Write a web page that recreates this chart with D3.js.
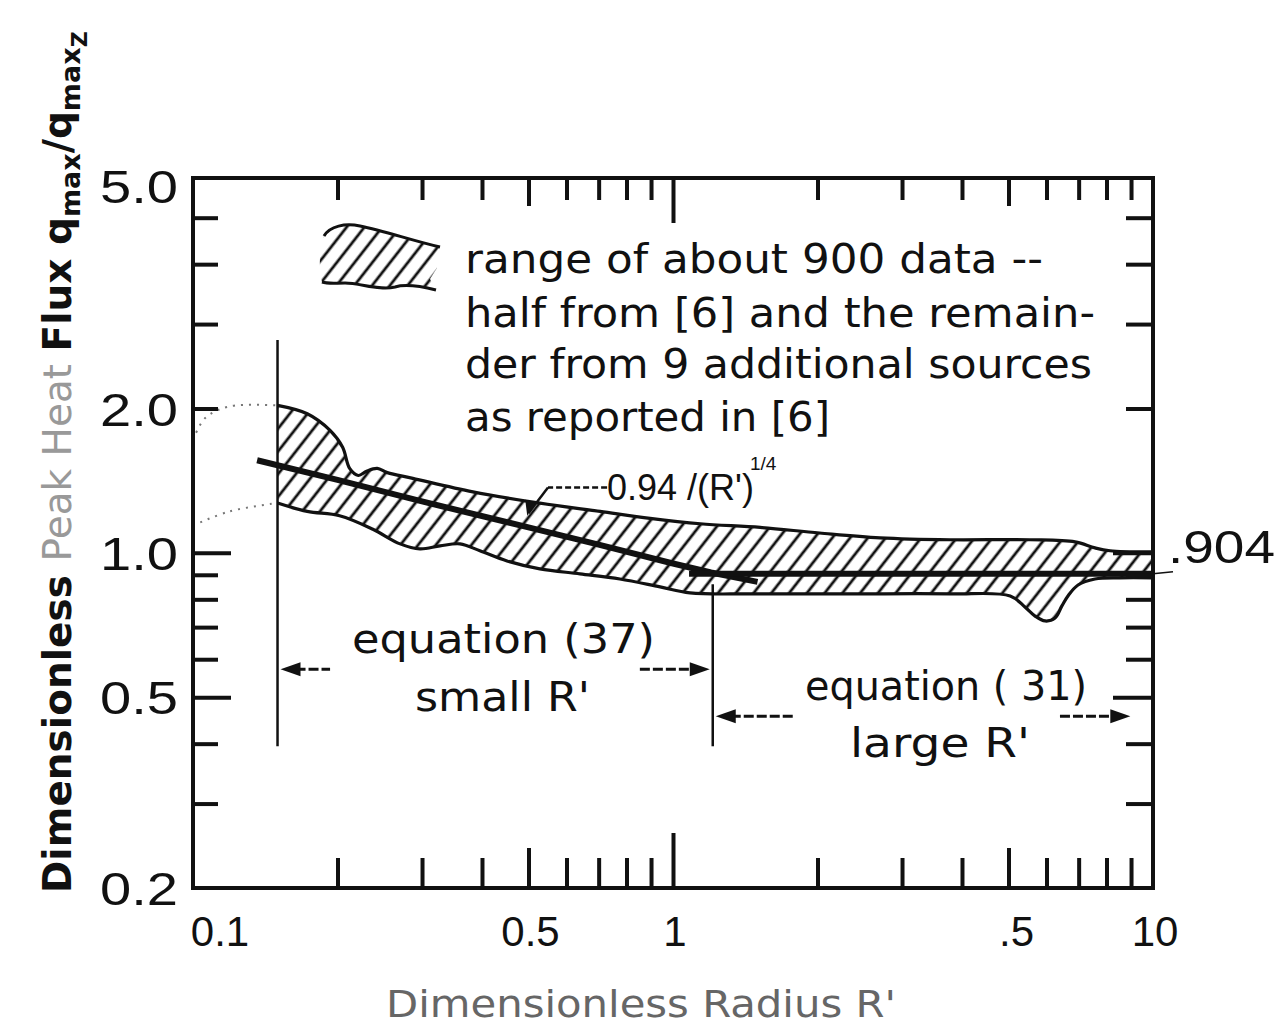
<!DOCTYPE html>
<html>
<head>
<meta charset="utf-8">
<script src="https://cdn.jsdelivr.net/npm/d3@7"></script>
<style>
  body { margin: 0; background: #fff; }
  svg { display: block; }
</style>
</head>
<body>
<svg id="chart" width="1280" height="1028"></svg>
<script>
// band of ~900 data points (upper / lower edges)
const bandUpperR = [0.15, 0.173, 0.193, 0.205, 0.212, 0.221, 0.230, 0.242, 0.254, 0.287, 0.383, 0.528, 0.705, 0.896, 1.14, 1.52, 2.02, 2.70, 3.78, 5.54, 6.88, 7.57, 8.14, 10];
const bandUpperQ = [2.03, 1.95, 1.80, 1.66, 1.50, 1.45, 1.48, 1.50, 1.47, 1.43, 1.34, 1.27, 1.22, 1.18, 1.15, 1.13, 1.10, 1.075, 1.065, 1.065, 1.054, 1.024, 1.01, 1.005];
const bandLowerR = [0.15, 0.173, 0.202, 0.237, 0.270, 0.297, 0.327, 0.360, 0.396, 0.451, 0.528, 0.640, 0.775, 0.940, 1.085, 1.45, 2.34, 3.78, 5.04, 5.41, 5.68, 5.96, 6.25, 6.46, 6.65, 6.98, 7.57, 8.54, 10];
const bandLowerQ = [1.27, 1.22, 1.195, 1.12, 1.044, 1.019, 1.034, 1.044, 1.010, 0.962, 0.926, 0.904, 0.882, 0.849, 0.825, 0.821, 0.821, 0.821, 0.813, 0.771, 0.738, 0.721, 0.731, 0.775, 0.813, 0.857, 0.882, 0.887, 0.887];

// dotted extension of the band below R' = 0.15
const extUpperR = [0.1, 0.106, 0.119, 0.15];
const extUpperQ = [1.72, 1.91, 2.02, 2.03];
const extLowerR = [0.1, 0.119, 0.15];
const extLowerQ = [1.14, 1.22, 1.27];

// 0.94/(R')^1/4 line and the .904 line
const fitR = [0.136, 0.2, 0.3, 0.5, 0.7, 1.0, 1.2, 1.5];
const fitQ = [1.56, 1.42, 1.28, 1.13, 1.04, 0.95, 0.91, 0.87];
const constR = [1.08, 10];
const constQ = [0.904, 0.904];

// limits of the two equations
const eqLimitsR = [0.15, 1.21, 9.1];

// ticks
const xMinorTicks = [0.2, 0.3, 0.4, 0.6, 0.7, 0.8, 0.9, 2, 3, 4, 6, 7, 8, 9];
const xMidTicks = [0.5, 5];
const xMajorTicks = [1];
const yMinorTicks = [0.3, 0.4, 0.6, 0.7, 0.8, 0.9, 2, 3, 4, 5];
const yMidTicks = [0.5, 1];
const xTickValues = [0.1, 0.5, 1, 5, 10];
const xTickLabels = ["0.1", "0.5", "1", ".5", "10"];
const yTickValues = [0.2, 0.5, 1, 2, 5];
const yTickLabels = ["0.2", "0.5", "1.0", "2.0", "5.0"];

const svg = d3.select('#chart');
const pLeft = 193, pRight = 1153, pTop = 178, pBottom = 888;

const x = d3.scaleLog().domain([0.1, 10]).range([pLeft, pRight]);
const y = d3.scaleLog().domain([0.2, 6.05]).range([pBottom, pTop]);

const ink = '#111';

// hatch pattern
const defs = svg.append('defs');
defs.append('pattern')
    .attr('id', 'hatch')
    .attr('patternUnits', 'userSpaceOnUse')
    .attr('width', 14).attr('height', 14)
    .attr('patternTransform', 'rotate(38)')
    .append('line')
    .attr('x1', 7).attr('y1', 0).attr('x2', 7).attr('y2', 14)
    .attr('stroke', ink).attr('stroke-width', 2.8);
defs.append('clipPath').attr('id', 'plot')
    .append('rect').attr('x', pLeft).attr('y', pTop).attr('width', pRight - pLeft).attr('height', pBottom - pTop);

const zip = (a, b) => a.map((v, i) => [v, b[i]]);
const line = d3.line().x(d => x(d[0])).y(d => y(d[1])).curve(d3.curveCatmullRom);
const straight = d3.line().x(d => x(d[0])).y(d => y(d[1]));

const upper = zip(bandUpperR, bandUpperQ);
const lower = zip(bandLowerR, bandLowerQ);

const g = svg.append('g').attr('clip-path', 'url(#plot)');

// band
g.append('path')
    .attr('d', line(upper) + line(lower.slice().reverse()).replace(/^M/, 'L') + 'Z')
    .attr('fill', 'url(#hatch)');
[upper, lower].forEach(pts => {
    g.append('path').attr('d', line(pts))
        .attr('fill', 'none').attr('stroke', ink).attr('stroke-width', 3.2);
});

// dotted extension
[zip(extUpperR, extUpperQ), zip(extLowerR, extLowerQ)].forEach(pts => {
    g.append('path').attr('d', line(pts))
        .attr('fill', 'none').attr('stroke', '#777').attr('stroke-width', 2)
        .attr('stroke-dasharray', '2,6');
});

// fit lines
g.append('path').attr('d', straight(zip(fitR, fitQ)))
    .attr('fill', 'none').attr('stroke', ink).attr('stroke-width', 6);
g.append('path').attr('d', straight(zip(constR, constQ)))
    .attr('fill', 'none').attr('stroke', ink).attr('stroke-width', 6);

// vertical limits of equations
svg.append('line')
    .attr('x1', x(eqLimitsR[0])).attr('x2', x(eqLimitsR[0]))
    .attr('y1', y(2.78)).attr('y2', y(0.395))
    .attr('stroke', ink).attr('stroke-width', 2.5);
svg.append('line')
    .attr('x1', x(eqLimitsR[1])).attr('x2', x(eqLimitsR[1]))
    .attr('y1', y(0.86)).attr('y2', y(0.395))
    .attr('stroke', ink).attr('stroke-width', 2.5);

// arrows
function arrowHead(tx, ty, dir) {
    // dir: +1 points right, -1 points left
    const L = 20, W = 7;
    svg.append('path')
        .attr('d', `M${tx},${ty}L${tx - dir * L},${ty - W}L${tx - dir * L},${ty + W}Z`)
        .attr('fill', ink);
}
function dimArrow(r0, r1, gap0, gap1, q) {
    const yy = y(q);
    const x0 = x(r0) + 3, x1 = x(r1) - 3;
    svg.append('line').attr('x1', x0 + 15).attr('x2', x(gap0)).attr('y1', yy).attr('y2', yy)
        .attr('stroke', ink).attr('stroke-width', 3).attr('stroke-dasharray', '10,3');
    svg.append('line').attr('x1', x(gap1)).attr('x2', x1 - 15).attr('y1', yy).attr('y2', yy)
        .attr('stroke', ink).attr('stroke-width', 3).attr('stroke-dasharray', '10,3');
    arrowHead(x0, yy, -1);
    arrowHead(x1, yy, 1);
}
dimArrow(eqLimitsR[0], eqLimitsR[1], 0.193, 0.853, 0.572);
dimArrow(eqLimitsR[1], eqLimitsR[2], 1.80, 6.4, 0.456);

// leader to the 0.94/(R')^1/4 line
svg.append('path')
    .attr('d', straight([[0.729, 1.368], [0.549, 1.368]]))
    .attr('fill', 'none').attr('stroke', ink).attr('stroke-width', 2.5).attr('stroke-dasharray', '6,3');
svg.append('path')
    .attr('d', straight([[0.549, 1.368], [0.50, 1.21]]))
    .attr('fill', 'none').attr('stroke', ink).attr('stroke-width', 2.5);
{
    const tx = x(0.497), ty = y(1.195);
    svg.append('path').attr('d', `M${tx},${ty}L${tx - 2},${ty - 16}L${tx + 8},${ty - 13}Z`).attr('fill', ink);
}
// .904 leader
svg.append('line').attr('x1', pRight).attr('x2', pRight + 20).attr('y1', y(0.904)).attr('y2', y(0.904) - 2)
    .attr('stroke', ink).attr('stroke-width', 1.5);

// ticks via d3 axes
function ticks(axisFn, scale, vals, len, tx) {
    const a = svg.append('g').attr('transform', tx)
        .call(axisFn(scale).tickValues(vals).tickSize(-len).tickFormat(''));
    a.select('.domain').remove();
    a.selectAll('line').attr('stroke', ink).attr('stroke-width', 4);
}
ticks(d3.axisBottom, x, xMinorTicks, 30, `translate(0,${pBottom})`);
ticks(d3.axisBottom, x, xMidTicks, 40, `translate(0,${pBottom})`);
ticks(d3.axisBottom, x, xMajorTicks, 55, `translate(0,${pBottom})`);
ticks(d3.axisTop, x, xMinorTicks, 22, `translate(0,${pTop})`);
ticks(d3.axisTop, x, xMidTicks, 28, `translate(0,${pTop})`);
ticks(d3.axisTop, x, xMajorTicks, 45, `translate(0,${pTop})`);
ticks(d3.axisLeft, y, yMinorTicks, 25, `translate(${pLeft},0)`);
ticks(d3.axisLeft, y, yMidTicks, 38, `translate(${pLeft},0)`);
ticks(d3.axisRight, y, yMinorTicks, 27, `translate(${pRight},0)`);
ticks(d3.axisRight, y, yMidTicks, 40, `translate(${pRight},0)`);

// frame
svg.append('rect')
    .attr('x', pLeft).attr('y', pTop).attr('width', pRight - pLeft).attr('height', pBottom - pTop)
    .attr('fill', 'none').attr('stroke', ink).attr('stroke-width', 4);

// tick labels
const numFont = "'Liberation Sans', Arial, sans-serif";
svg.append('g').selectAll('text').data(yTickValues).join('text')
    .attr('x', 178)
    .attr('y', v => (v === 5 ? pTop + 8 : y(v)) + 17)
    .attr('text-anchor', 'end')
    .attr('font-family', numFont).attr('font-size', 47)
    .attr('textLength', 78).attr('lengthAdjust', 'spacingAndGlyphs')
    .attr('fill', ink)
    .text((v, i) => yTickLabels[i]);
svg.append('g').selectAll('text').data(xTickValues).join('text')
    .attr('x', v => v === 0.1 ? x(v) + 27 : v === 5 ? x(v) + 8 : x(v) + 2)
    .attr('y', 946)
    .attr('text-anchor', 'middle')
    .attr('font-family', numFont).attr('font-size', 42)
    .attr('fill', ink)
    .text((v, i) => xTickLabels[i]);

// annotations
const txtFont = "'DejaVu Sans', sans-serif";
function label(str, tx, ty, size, len, fill, font) {
    const t = svg.append('text')
        .attr('x', tx).attr('y', ty)
        .attr('font-family', font || txtFont).attr('font-size', size)
        .attr('fill', fill || ink)
        .text(str);
    if (len) t.attr('textLength', len).attr('lengthAdjust', 'spacingAndGlyphs');
    return t;
}
label('range of about 900 data --', 465, 273, 40, 578);
label('half from [6] and the remain-', 465, 327, 40, 630);
label('der from 9 additional sources', 465, 378, 40, 627);
label('as reported in [6]', 465, 431, 40, 365);
label("0.94 /(R')", 607, 500, 36, null, ink, numFont);
label('1/4', 750, 470, 19, null, ink, numFont);
label('.904', 1168, 563, 46, 107, ink, numFont);
label('equation (37)', 352, 653, 40, 303);
label("small R'", 415, 711, 40, 175);
label('equation ( 31)', 805, 700, 40, 282);
label("large R'", 850, 757, 40, 180);
label("Dimensionless Radius R'", 386, 1017, 38, 510, '#666');

// legend swatch
svg.append('path')
    .attr('d', 'M324,236C330,226 345,223 360,226C385,231 410,240 440,247L432,258L437,268L430,279L436,290C420,286 405,284 395,287C380,291 360,283 345,283C335,283 328,284 322,282C318,270 320,245 324,236Z')
    .attr('fill', 'url(#hatch)');
svg.append('path')
    .attr('d', 'M324,236C330,226 345,223 360,226C385,231 410,240 440,247')
    .attr('fill', 'none').attr('stroke', ink).attr('stroke-width', 3);
svg.append('path')
    .attr('d', 'M436,290C420,286 405,284 395,287C380,291 360,283 345,283C335,283 328,284 322,282')
    .attr('fill', 'none').attr('stroke', ink).attr('stroke-width', 3);

// y axis title
const yTitle = svg.append('text')
    .attr('transform', 'translate(71,893) rotate(-90)')
    .attr('font-family', txtFont).attr('font-size', 39).attr('font-weight', 'bold')
    .attr('fill', ink);
yTitle.append('tspan').text('Dimensionless ');
yTitle.append('tspan').text('Peak Heat ').attr('fill', '#999').attr('font-weight', 'normal');
yTitle.append('tspan').text('Flux q');
yTitle.append('tspan').text('max').attr('font-size', 27).attr('dy', 9);
yTitle.append('tspan').text('/q').attr('dy', -9);
yTitle.append('tspan').text('max').attr('font-size', 27).attr('dy', 9);
yTitle.append('tspan').text('Z').attr('font-size', 22).attr('dy', 7);
</script>
</body>
</html>
